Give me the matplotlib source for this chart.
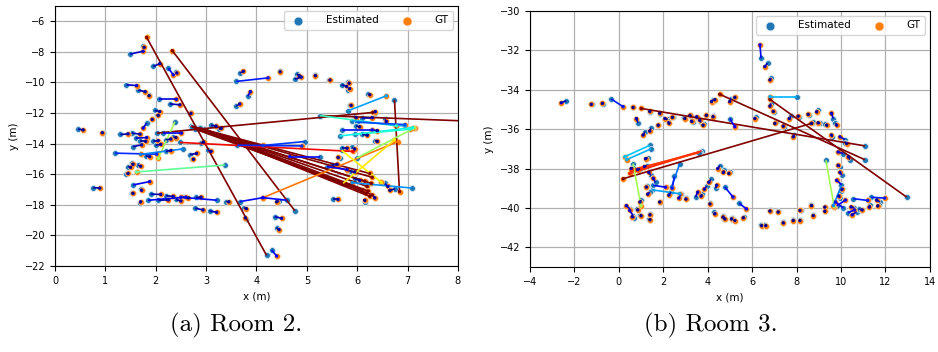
import numpy as np
import matplotlib
matplotlib.use("Agg")
import matplotlib.pyplot as plt
from matplotlib.collections import LineCollection
from matplotlib.colors import Normalize

# ---- Room 2: estimated position, ground truth position, error value (drives line colour)
r2_est_x = [4.20, 4.76, 6.74, 2.02, 5.26,
            2.70, 2.75, 2.80, 2.85, 2.90, 2.78, 2.95, 3.00, 2.72, 2.88,
            2.48, 4.13, 5.69, 5.72, 5.99, 5.26, 5.90, 6.00, 5.65, 5.95,
            5.82, 3.37, 2.38, 1.19, 2.55, 7.08, 4.96, 3.62, 3.60, 5.26,
            3.67, 4.60, 1.55, 3.22, 1.85, 5.40, 5.70, 2.07, 1.42, 1.49,
            1.30, 2.15, 1.60,
            0.46, 0.95, 0.76, 1.75, 1.95, 2.25, 2.40, 1.65, 1.86, 2.28,
            1.98, 2.02, 2.69, 1.82, 1.92, 1.52, 1.55, 1.68, 1.95, 2.20,
            2.00, 1.52, 1.45, 1.65, 1.42, 1.80, 2.20, 2.68, 2.72, 2.35,
            2.90, 3.04, 3.25, 3.10, 1.52, 1.70, 1.68, 1.90, 2.20, 2.55,
            2.80, 2.05, 2.40, 2.78, 3.07, 3.40, 3.75, 3.80, 4.36, 4.40,
            4.30, 4.45, 3.67, 3.83, 3.60, 4.46, 4.76, 4.80, 5.16, 5.45,
            5.69, 5.82, 5.82, 6.21, 6.35, 5.85, 5.95, 6.10, 6.55, 5.98,
            6.30, 6.10, 6.35, 5.70, 5.65, 5.90, 5.50, 5.85, 5.95, 6.15,
            5.52, 6.32, 6.55, 6.75]
r2_est_y = [-21.30, -18.38, -11.13, -13.31, -12.16,
            -12.85, -12.90, -12.95, -12.95, -13.00, -13.05, -13.05, -13.10, -12.90, -13.00,
            -13.92, -17.53, -14.43, -16.59, -14.94, -12.16, -12.50, -12.60, -13.50, -13.40,
            -11.85, -15.40, -12.57, -14.62, -14.34, -16.90, -13.86, -14.10, -9.93, -14.84,
            -17.79, -17.70, -16.70, -17.70, -17.70, -15.50, -13.10, -11.10, -10.15, -8.14,
            -13.40, -13.31, -13.64,
            -13.05, -13.30, -16.87, -7.64, -8.95, -9.06, -9.30, -10.50, -10.85, -11.40,
            -11.83, -12.10, -12.00, -12.66, -12.40, -13.30, -14.19, -13.85, -13.85, -13.75,
            -14.10, -15.28, -15.50, -15.40, -15.98, -14.80, -14.50, -14.71, -15.00, -13.55,
            -13.95, -14.43, -13.05, -12.80, -17.20, -16.95, -17.90, -17.30, -17.40, -17.50,
            -17.52, -17.70, -17.65, -18.22, -18.40, -17.79, -18.20, -18.90, -18.77, -19.50,
            -20.95, -17.75, -9.38, -10.90, -11.55, -9.27, -9.78, -9.45, -9.54, -9.82,
            -10.15, -10.00, -10.48, -10.76, -12.00, -11.46, -12.25, -12.30, -12.40, -12.85,
            -13.10, -13.40, -13.80, -14.30, -14.95, -14.25, -15.40, -15.80, -16.30, -17.79,
            -17.65, -17.40, -16.60, -16.95]
r2_gt_x = [1.82, 2.33, 6.84, 6.31, 9.80,
           6.25, 6.30, 6.15, 6.28, 6.20, 6.10, 6.22, 6.18, 6.30, 6.25,
           5.92, 6.81, 6.48, 6.74, 7.14, 6.78, 6.95, 6.95, 7.10, 7.05,
           6.58, 1.62, 2.05, 2.02, 1.70, 5.90, 4.13, 4.90, 4.23, 4.66,
           4.13, 4.13, 1.88, 2.50, 2.60, 5.80, 6.30, 2.41, 1.62, 1.75,
           1.45, 2.51, 1.82,
           0.56, 0.94, 0.89, 1.77, 2.08, 2.35, 2.42, 1.79, 1.87, 2.48,
           2.08, 2.05, 2.70, 1.75, 1.93, 1.69, 1.72, 1.80, 2.05, 2.30,
           2.10, 1.55, 1.50, 1.70, 1.45, 1.88, 2.30, 2.81, 2.75, 2.40,
           2.95, 3.10, 3.30, 3.20, 1.55, 1.72, 1.70, 2.10, 2.35, 2.65,
           2.90, 2.25, 2.50, 2.94, 3.21, 3.45, 3.80, 3.78, 4.50, 4.45,
           4.40, 4.40, 3.74, 3.88, 3.67, 4.47, 4.89, 4.85, 5.17, 5.46,
           5.79, 5.84, 5.85, 6.25, 6.36, 5.88, 5.98, 6.30, 6.58, 6.05,
           6.40, 6.20, 6.40, 5.80, 5.62, 5.95, 5.60, 5.95, 6.05, 6.15,
           5.62, 6.35, 6.61, 6.65]
r2_gt_y = [-7.05, -7.92, -17.13, -11.96, -12.72,
           -15.95, -16.20, -16.45, -16.60, -16.80, -17.00, -17.10, -17.25, -17.35, -17.45,
           -14.51, -13.86, -16.53, -13.76, -12.97, -12.84, -12.85, -12.75, -12.95, -13.05,
           -10.87, -15.85, -14.97, -14.69, -14.70, -16.55, -14.12, -14.15, -9.70, -14.84,
           -17.53, -17.53, -16.48, -17.50, -17.50, -15.70, -13.10, -11.10, -10.20, -7.96,
           -13.36, -13.31, -13.60,
           -13.10, -13.28, -16.91, -7.70, -8.77, -9.50, -9.38, -10.60, -10.86, -11.46,
           -11.90, -12.15, -12.02, -12.98, -12.42, -13.38, -14.08, -13.85, -13.80, -13.70,
           -14.05, -15.35, -15.55, -15.48, -15.95, -14.85, -14.45, -14.64, -15.02, -13.60,
           -13.90, -14.50, -13.00, -12.85, -17.25, -17.05, -17.80, -17.32, -17.45, -17.55,
           -17.50, -17.68, -17.75, -18.33, -18.49, -17.80, -18.25, -18.85, -18.88, -19.62,
           -21.35, -17.80, -9.27, -10.60, -11.40, -9.30, -9.65, -9.55, -9.55, -9.84,
           -10.26, -10.05, -10.40, -10.80, -11.90, -11.50, -12.30, -12.30, -12.55, -12.90,
           -13.15, -13.45, -13.85, -14.30, -14.90, -14.35, -15.35, -15.85, -16.40, -17.70,
           -17.65, -17.55, -16.80, -17.05]
r2_err = [5.0, 5.0, 5.0, 5.0, 5.0,
          5.0, 5.0, 5.0, 5.0, 5.0, 5.0, 5.0, 5.0, 5.0, 5.0,
          2.7, 2.35, 1.95, 2.0, 1.6, 1.25, 0.85, 0.6, 1.1, 1.15,
          0.85, 1.4, 1.65, 0.5, 0.75, 0.8, 0.55, 0.5, 0.45, 0.4,
          0.4, 0.35, 0.3, 0.4, 0.35, 0.3, 0.4, 0.25, 0.2, 0.2,
          0.15, 0.3, 0.2,
          0.1, 0.05, 0.1, 0.05, 0.15, 0.35, 0.1, 0.1, 0.05, 0.15,
          0.1, 0.05, 0.05, 0.25, 0.05, 0.15, 0.15, 0.1, 0.1, 0.1,
          0.1, 0.05, 0.05, 0.1, 0.05, 0.1, 0.1, 0.1, 0.05, 0.05,
          0.05, 0.1, 0.05, 0.1, 0.05, 0.1, 0.1, 0.15, 0.15, 0.1,
          0.1, 0.15, 0.1, 0.15, 0.15, 0.05, 0.05, 0.05, 0.15, 0.1,
          0.35, 0.05, 0.1, 0.25, 0.15, 0.05, 0.15, 0.1, 0.05, 0.05,
          0.1, 0.05, 0.05, 0.05, 0.1, 0.05, 0.05, 0.15, 0.15, 0.05,
          0.1, 0.1, 0.05, 0.1, 0.05, 0.1, 0.1, 0.1, 0.1, 0.05,
          0.1, 0.1, 0.15, 0.1]

# ---- Room 3
r3_est_x = [11.07, 11.07, 12.95, 8.75, 3.72, 3.65, 3.60, 0.64, 9.32, 8.00,
            1.39, 1.45, 1.47, 2.74, 2.50, -0.34, 10.02, 4.77, 5.41, 10.55,
            11.35, 4.99, 1.55, 6.40, 9.80, 10.10, 10.30, 10.70,
            -2.36, -1.20, -0.72, 0.62, 0.86, 1.17, 1.45, 1.42, 1.86, 1.78,
            2.20, 2.20, 2.43, 2.95, 3.25, 3.35, 3.55, 3.70, 3.82, 3.90,
            4.22, 4.25, 4.30, 5.05, 5.20, 6.15, 6.69, 6.85, 6.85, 6.98,
            7.05, 7.42, 7.75, 7.90, 8.10, 8.55, 8.95, 8.72, 9.05, 9.30,
            9.65, 9.75, 9.60, 10.17, 10.20, 10.10, 10.40, 9.95, 10.05, 10.02,
            10.00, 9.95, 10.60, 10.80, 11.30, 11.75, 11.70, 6.78, 7.15, 6.40,
            6.58, 7.38, 7.83, 8.13, 8.18, 8.65, 8.73, 9.29, 9.30, 5.65,
            4.30, 4.70, 4.75, 5.10, 5.20, 4.12, 4.55, 4.75, 4.98, 4.15,
            4.35, 3.95, 3.75, 3.45, 3.00, 2.80, 2.35, 1.86, 1.40, 1.65,
            1.45, 1.25, 1.30, 1.26, 0.49, 0.64, 0.70, 1.38, 1.35, 0.80,
            0.95, 1.00, 0.65, 0.95]
r3_est_y = [-36.85, -37.55, -39.45, -35.68, -37.11, -37.15, -37.20, -37.75, -37.58, -34.35,
            -36.82, -37.00, -39.08, -37.75, -38.40, -34.47, -38.86, -38.94, -39.76, -39.53,
            -39.46, -35.46, -38.85, -32.40, -39.90, -40.00, -40.25, -40.20,
            -34.56, -34.72, -34.70, -34.88, -35.68, -36.14, -35.95, -35.15, -35.22, -35.78,
            -35.50, -35.60, -35.38, -35.45, -35.35, -35.65, -35.45, -35.65, -35.75, -35.28,
            -35.35, -34.50, -34.55, -34.45, -34.40, -35.40, -32.65, -33.40, -34.70, -35.12,
            -35.65, -35.90, -35.35, -36.30, -35.38, -35.28, -35.05, -35.65, -35.70, -35.75,
            -35.46, -35.70, -36.40, -36.53, -36.70, -37.24, -37.55, -37.90, -38.35, -38.82,
            -39.15, -39.50, -40.00, -40.05, -39.85, -39.70, -39.85, -40.10, -40.18, -40.88,
            -40.88, -40.74, -40.62, -40.62, -40.10, -39.85, -40.37, -39.93, -40.15, -40.45,
            -40.20, -40.40, -40.55, -40.50, -40.60, -39.75, -37.85, -38.10, -38.20, -38.55,
            -39.00, -38.90, -39.30, -39.45, -39.50, -39.30, -39.20, -39.68, -39.20, -38.70,
            -38.35, -37.85, -37.45, -38.90, -40.05, -40.39, -40.50, -40.30, -40.55, -40.05,
            -40.35, -39.60, -37.95, -38.00]
r3_gt_x = [1.01, 4.54, 6.80, 0.19, 0.57, 0.50, 0.62, 1.00, 9.69, 6.80,
           0.27, 0.35, 2.74, 2.37, 2.40, 0.19, 9.65, 5.14, 5.74, 11.20,
           11.97, 5.22, 2.10, 6.35, 10.20, 9.75, 10.60, 10.50,
           -2.59, -1.24, -0.74, 0.64, 0.79, 1.09, 1.39, 1.39, 1.84, 1.77,
           2.07, 2.26, 2.41, 2.97, 3.20, 3.27, 3.50, 3.64, 3.79, 3.94,
           4.24, 4.17, 4.32, 4.99, 5.22, 6.12, 6.57, 6.80, 6.80, 6.95,
           7.02, 7.40, 7.67, 7.85, 8.07, 8.52, 8.90, 8.67, 8.97, 9.35,
           9.57, 9.80, 9.57, 9.95, 10.25, 9.87, 10.33, 9.87, 9.95, 9.80,
           10.05, 9.90, 10.45, 10.95, 11.27, 11.60, 11.65, 6.80, 7.17, 6.42,
           6.61, 7.40, 7.85, 8.15, 8.15, 8.67, 8.75, 9.27, 9.27, 5.60,
           4.32, 4.69, 4.77, 5.07, 5.22, 4.10, 4.45, 4.70, 4.95, 4.05,
           4.40, 3.85, 3.70, 3.55, 3.02, 2.70, 2.25, 1.84, 1.30, 1.55,
           1.35, 1.15, 1.20, 1.24, 0.34, 0.49, 0.60, 1.40, 1.40, 0.85,
           1.00, 0.95, 0.55, 0.85]
r3_gt_y = [-34.95, -34.23, -34.49, -38.52, -38.13, -38.25, -38.05, -39.90, -39.93, -34.35,
           -37.40, -37.55, -39.28, -38.94, -39.00, -34.86, -39.88, -39.45, -40.05, -39.62,
           -39.50, -35.88, -38.95, -31.72, -39.60, -39.70, -40.10, -40.35,
           -34.66, -34.74, -34.69, -34.90, -35.46, -36.30, -36.10, -35.10, -35.20, -35.80,
           -35.46, -35.70, -35.40, -35.46, -35.30, -35.60, -35.37, -35.55, -35.80, -35.30,
           -35.37, -34.60, -34.50, -34.60, -34.39, -35.46, -32.82, -33.50, -34.83, -35.10,
           -35.71, -35.85, -35.46, -36.39, -35.34, -35.25, -35.12, -35.71, -35.68, -35.80,
           -35.20, -35.80, -36.30, -36.39, -36.73, -37.16, -37.41, -37.84, -38.20, -38.60,
           -39.05, -39.40, -39.95, -40.10, -39.96, -39.60, -39.90, -40.16, -40.21, -40.90,
           -40.90, -40.76, -40.64, -40.64, -40.13, -39.88, -40.39, -39.96, -40.17, -40.50,
           -40.30, -40.47, -40.56, -40.56, -40.64, -39.80, -38.00, -38.20, -38.25, -38.70,
           -38.85, -39.05, -39.40, -39.20, -39.55, -39.50, -39.35, -39.70, -39.30, -38.50,
           -38.20, -37.90, -37.50, -38.94, -39.88, -40.13, -40.45, -40.35, -40.60, -40.10,
           -40.40, -39.70, -38.00, -38.05]
r3_err = [5.0, 5.0, 5.0, 5.0, 2.6, 2.6, 2.55, 1.65, 1.65, 0.9,
          0.95, 0.9, 0.85, 0.7, 0.45, 0.45, 0.75, 0.4, 0.35, 0.45,
          0.45, 0.35, 0.4, 0.3, 0.35, 0.3, 0.3, 0.2,
          0.15, 0.05, 0.05, 0.05, 0.15, 0.1, 0.1, 0.05, 0.05, 0.05,
          0.1, 0.1, 0.05, 0.05, 0.05, 0.1, 0.1, 0.1, 0.05, 0.05,
          0.05, 0.1, 0.05, 0.1, 0.05, 0.05, 0.15, 0.1, 0.1, 0.05,
          0.05, 0.05, 0.1, 0.1, 0.05, 0.05, 0.05, 0.05, 0.1, 0.05,
          0.2, 0.1, 0.1, 0.2, 0.05, 0.2, 0.1, 0.1, 0.15, 0.25,
          0.1, 0.1, 0.15, 0.15, 0.1, 0.15, 0.05, 0.05, 0.05, 0.05,
          0.05, 0.05, 0.05, 0.05, 0.05, 0.05, 0.05, 0.05, 0.05, 0.05,
          0.1, 0.05, 0.05, 0.05, 0.05, 0.05, 0.15, 0.1, 0.05, 0.15,
          0.15, 0.15, 0.1, 0.2, 0.05, 0.2, 0.15, 0.05, 0.15, 0.2,
          0.15, 0.1, 0.1, 0.05, 0.2, 0.25, 0.1, 0.05, 0.05, 0.05,
          0.05, 0.1, 0.1, 0.1]

norm = Normalize(vmin=0, vmax=3.0)


def draw_room(ax, ex, ey, gx, gy, err, xlim, ylim, xticks, yticks):
    ax.scatter(ex, ey, s=18, color='C0', edgecolors='#d8e6f2', linewidths=0.6,
               label='Estimated', zorder=2)
    ax.scatter(gx, gy, s=18, color='C1', edgecolors='#fde0c0', linewidths=0.4,
               label='GT', zorder=3)
    segs = np.stack([np.column_stack([ex, ey]), np.column_stack([gx, gy])], axis=1)
    lc = LineCollection(segs, cmap='jet', norm=norm, linewidths=1.2, zorder=4)
    lc.set_array(np.asarray(err))
    ax.add_collection(lc)
    ax.scatter(gx, gy, s=2, c=err, cmap='jet', norm=norm, zorder=5)
    ax.set_xlim(*xlim)
    ax.set_ylim(*ylim)
    ax.set_xticks(xticks)
    ax.set_yticks(yticks)
    ax.tick_params(labelsize=7)
    ax.set_xlabel('x (m)', fontsize=7.5)
    ax.set_ylabel('y (m)', fontsize=7.5)
    ax.grid(True, color='#b0b0b0', linewidth=0.9)
    ax.set_axisbelow(True)
    ax.legend(loc='upper right', ncol=2, fontsize=7.5, markerscale=1.5,
              handletextpad=1.6, columnspacing=1.8)


fig = plt.figure(figsize=(9.38, 3.52), dpi=100)
ax1 = fig.add_axes([0.0586, 0.2443, 0.4296, 0.7386])
ax2 = fig.add_axes([0.565, 0.2415, 0.4264, 0.7273])

draw_room(ax1, r2_est_x, r2_est_y, r2_gt_x, r2_gt_y, r2_err,
          (0, 8), (-22, -5), range(0, 9), range(-22, -5, 2))
draw_room(ax2, r3_est_x, r3_est_y, r3_gt_x, r3_gt_y, r3_err,
          (-4, 14), (-43, -30), range(-4, 15, 2), range(-42, -29, 2))

fig.text(0.252, 0.074, '(a) Room 2.', fontfamily='cmr10', fontsize=18,
         ha='center', va='center')
fig.text(0.758, 0.074, '(b) Room 3.', fontfamily='cmr10', fontsize=18,
         ha='center', va='center')

fig.savefig('out.png', dpi=100)
